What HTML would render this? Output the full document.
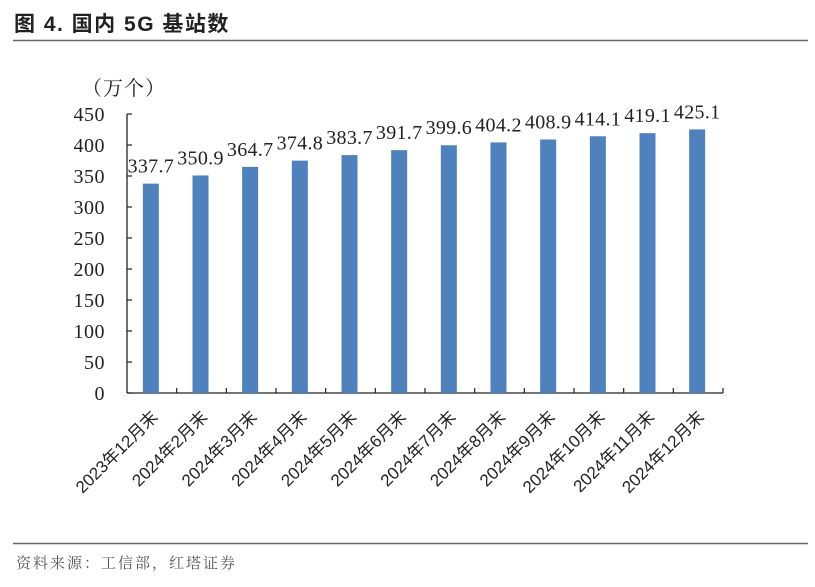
<!DOCTYPE html>
<html><head><meta charset="utf-8"><style>
body{margin:0;background:#fff;width:815px;height:582px;overflow:hidden}
</style></head><body>
<svg width="815" height="582" xmlns="http://www.w3.org/2000/svg">
<text x="14" y="31" font-family="'Liberation Sans','Noto Sans CJK SC',sans-serif" font-size="21" font-weight="bold" letter-spacing="1.5" fill="#222">图 4.  国内 5G 基站数</text>
<line x1="13" y1="40.5" x2="808" y2="40.5" stroke="#666" stroke-width="1.5"/>
<line x1="13" y1="543.5" x2="808" y2="543.5" stroke="#666" stroke-width="1.5"/>
<text x="16" y="568" font-family="'Liberation Serif','Noto Serif CJK SC',serif" font-size="15" letter-spacing="2" fill="#555">资料来源：工信部，红塔证券</text>
<text x="82" y="95" font-family="'Liberation Serif','Noto Serif CJK SC',serif" font-size="20" letter-spacing="1" fill="#222">（万个）</text>
<g id="plot"></g>
</svg>
<script>
const categories=["2023年12月末","2024年2月末","2024年3月末","2024年4月末","2024年5月末","2024年6月末","2024年7月末","2024年8月末","2024年9月末","2024年10月末","2024年11月末","2024年12月末"];
const values=[337.7,350.9,364.7,374.8,383.7,391.7,399.6,404.2,408.9,414.1,419.1,425.1];
const yTicks=[0,50,100,150,200,250,300,350,400,450];
const NS="http://www.w3.org/2000/svg";
const g=document.getElementById('plot');
const x0=127,x1=723,y0=393,yMax=450,yTop=114;
const band=(x1-x0)/categories.length;
const yS=v=>y0-(v/yMax)*(y0-yTop);
const xC=i=>x0+band*(i+0.5);
function mk(t,a){const e=document.createElementNS(NS,t);for(const k in a)e.setAttribute(k,a[k]);g.appendChild(e);return e;}
const serif="'Liberation Serif','Noto Serif CJK SC',serif";
let ax=mk('line',{x1:x0,y1:yTop,x2:x0,y2:y0,stroke:'#222','stroke-width':1.3});


let bx=mk('line',{x1:x0,y1:y0,x2:x1,y2:y0,stroke:'#222','stroke-width':1.3});


yTicks.forEach(v=>{
 const y=yS(v);
 const t=mk('line',{x1:x0,y1:y,x2:x0+5,y2:y,stroke:'#222','stroke-width':1.2});
 
 
 const l=mk('text',{x:105,y:y+7,'text-anchor':'end','font-family':serif,'font-size':20,'letter-spacing':0.5,fill:'#222'});
 l.textContent=v;
 
 
});
for(let i=1;i<=categories.length;i++){
 const x=x0+band*i;
 const t=mk('line',{x1:x,y1:y0,x2:x,y2:y0-5,stroke:'#222','stroke-width':1.2});
 
 
}
values.forEach((v,i)=>{
 const c=xC(i)-1;
 const b=mk('rect',{x:c-8,y:yS(v),width:16,height:y0-yS(v),fill:'#4f81bd'});
 
 
 const l=mk('text',{x:c,y:yS(v)-11,'text-anchor':'middle','font-family':serif,'font-size':20,'letter-spacing':0.3,fill:'#222'});
 l.textContent=v.toFixed(1);
 
 
 const cl=mk('text',{x:0,y:0,'text-anchor':'end','font-family':"'Liberation Sans','Noto Sans CJK SC',sans-serif",'font-size':17,fill:'#222',transform:`translate(${c+8},${y0+25}) rotate(-45)`});
 cl.textContent=categories[i];
 
 
});
</script>
</body></html>
